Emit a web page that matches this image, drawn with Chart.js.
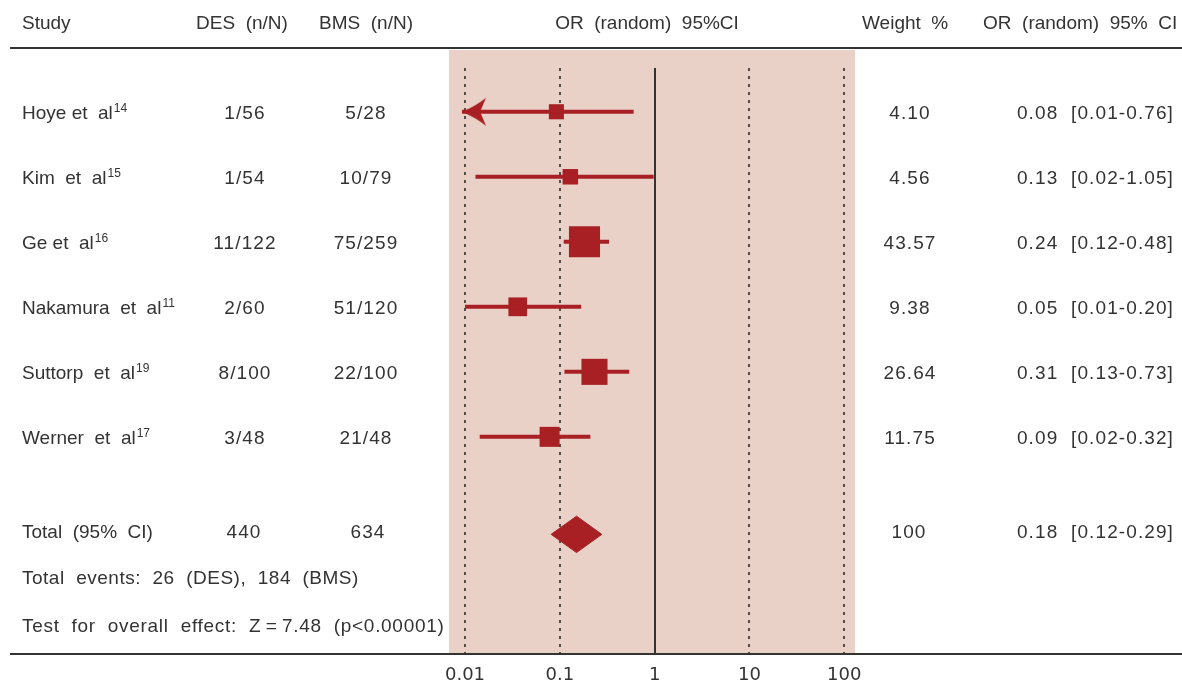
<!DOCTYPE html>
<html>
<head>
<meta charset="utf-8">
<script src="https://cdn.jsdelivr.net/npm/chart.js@4.4.0/dist/chart.umd.min.js"></script>
<style>
html, body { margin: 0; padding: 0; background: #fff; }
canvas { display: block; }
</style>
</head>
<body>
<canvas id="forest" width="1182" height="684"></canvas>
<script>
// dados da tabela
var estudos = ['Hoye et  al', 'Kim  et  al', 'Ge et  al', 'Nakamura  et  al', 'Suttorp  et  al', 'Werner  et  al'];
var refs = ['14', '15', '16', '11', '19', '17'];
var desTxt = ['1/56', '1/54', '11/122', '2/60', '8/100', '3/48'];
var bmsTxt = ['5/28', '10/79', '75/259', '51/120', '22/100', '21/48'];
var pesos = [4.10, 4.56, 43.57, 9.38, 26.64, 11.75];
var orTxt = ['0.08  [0.01-0.76]', '0.13  [0.02-1.05]', '0.24  [0.12-0.48]', '0.05  [0.01-0.20]', '0.31  [0.13-0.73]', '0.09  [0.02-0.32]'];

// posicoes dos marcadores
var orPonto = [0.092, 0.129, 0.182, 0.036, 0.232, 0.078];
var icBaixo = [0.0093, 0.0129, 0.11, 0.010, 0.112, 0.0143];
var icAlto = [0.60, 0.976, 0.33, 0.168, 0.54, 0.21];
var totalIC = [0.081, 0.15, 0.277]; // baixo, ponto, alto

var xTicks = [0.01, 0.1, 1, 10, 100];

var FONTE = '"Liberation Sans", Arial, sans-serif';
var FONTE_NUM = '"DejaVu Sans", sans-serif';
var TEXTO = '#333';
var VERMELHO = '#A81F24';
var ROSA = '#EAD1C8';

var LINHA_TOTAL = 7.5;

// seta da esquerda (Hoye)
var seta = document.createElement('canvas');
seta.width = 26; seta.height = 30;
(function() {
  var c = seta.getContext('2d');
  c.fillStyle = VERMELHO;
  c.beginPath();
  c.moveTo(0, 15);
  c.quadraticCurveTo(14, 9, 24, 1);
  c.lineTo(18, 15);
  c.lineTo(24, 29);
  c.quadraticCurveTo(14, 21, 0, 15);
  c.closePath();
  c.fill();
})();

function ladoQuadrado(p) { return 8 + 3.5 * Math.sqrt(p); }

var datasets = [];
estudos.forEach(function(n, i) {
  datasets.push({
    type: 'scatter', showLine: true,
    data: [{ x: icBaixo[i], y: i + 1 }, { x: icAlto[i], y: i + 1 }],
    borderColor: VERMELHO, borderWidth: 4, pointRadius: 0, borderCapStyle: 'butt'
  });
});
datasets.push({
  type: 'scatter',
  data: [{ x: Math.pow(10, Math.log10(icBaixo[0]) + 13 / 94.9), y: 1 }],
  pointStyle: seta, pointRadius: 13
});
datasets.push({
  type: 'scatter',
  data: orPonto.map(function(v, i) { return { x: v, y: i + 1 }; }),
  pointStyle: 'rect',
  pointRadius: pesos.map(function(p) { return ladoQuadrado(p) / 2 / Math.SQRT1_2; }),
  backgroundColor: VERMELHO, borderWidth: 0
});
datasets.push({
  type: 'scatter', showLine: true,
  data: [
    { x: totalIC[0], y: LINHA_TOTAL },
    { x: totalIC[1], y: LINHA_TOTAL - 0.28 },
    { x: totalIC[2], y: LINHA_TOTAL },
    { x: totalIC[1], y: LINHA_TOTAL + 0.28 },
    { x: totalIC[0], y: LINHA_TOTAL }
  ],
  borderColor: VERMELHO, backgroundColor: VERMELHO, borderWidth: 1,
  pointRadius: 0, fill: 'shape', tension: 0
});

var fundoPlugin = {
  id: 'fundo',
  beforeDraw: function(chart) {
    var ctx = chart.ctx, a = chart.chartArea, xs = chart.scales.x;
    ctx.save();
    ctx.fillStyle = '#fff';
    ctx.fillRect(0, 0, chart.width, chart.height);
    ctx.fillStyle = ROSA;
    ctx.fillRect(a.left, a.top, a.right - a.left, a.bottom - a.top);
    xTicks.forEach(function(v) {
      var px = Math.round(xs.getPixelForValue(v));
      ctx.beginPath();
      if (v === 1) {
        ctx.setLineDash([]);
        ctx.lineWidth = 2;
        ctx.strokeStyle = '#333';
      } else {
        ctx.setLineDash([3, 5]);
        ctx.lineWidth = 1.5;
        ctx.strokeStyle = '#222';
      }
      ctx.moveTo(px, a.top + 18);
      ctx.lineTo(px, a.bottom);
      ctx.stroke();
    });
    ctx.restore();
  },
  afterDraw: function(chart) {
    var ctx = chart.ctx, ys = chart.scales.y;
    ctx.save();
    // linhas horizontais
    ctx.strokeStyle = '#333';
    ctx.lineWidth = 2;
    ctx.beginPath();
    ctx.moveTo(10, 48); ctx.lineTo(1182, 48);
    ctx.moveTo(10, 654); ctx.lineTo(1182, 654);
    ctx.stroke();

    ctx.fillStyle = TEXTO;
    ctx.textBaseline = 'middle';
    function txt(s, x, y, al, f, esp) {
      ctx.font = f || ('19px ' + FONTE);
      ctx.letterSpacing = esp || '0px';
      ctx.textAlign = al || 'left';
      ctx.fillText(s, x, y);
    }
    var f19 = '19px ' + FONTE;
    var numEsp = '1.1px';

    // cabecalho
    txt('Study', 22, 24);
    txt('DES  (n/N)', 242, 24, 'center');
    txt('BMS  (n/N)', 366, 24, 'center');
    txt('OR  (random)  95%CI', 647, 24, 'center');
    txt('Weight  %', 862, 24);
    txt('OR  (random)  95%  CI', 983, 24);

    estudos.forEach(function(n, i) {
      var y = ys.getPixelForValue(i + 1) + 2;
      txt(n, 22, y);
      var w = ctx.measureText(n).width;
      txt(desTxt[i], 245, y, 'center', f19, numEsp);
      txt(bmsTxt[i], 366, y, 'center', f19, numEsp);
      txt(pesos[i].toFixed(2), 910, y, 'center', f19, numEsp);
      txt(orTxt[i], 1174, y, 'right', f19, numEsp);
      txt(refs[i], 22 + w + 1, y - 5, 'left', '12px ' + FONTE);
    });

    var yt = ys.getPixelForValue(LINHA_TOTAL) - 2;
    txt('Total  (95%  CI)', 22, yt);
    txt('440', 244, yt, 'center', f19, numEsp);
    txt('634', 368, yt, 'center', f19, numEsp);
    txt('100', 909, yt, 'center', f19, numEsp);
    txt('0.18  [0.12-0.29]', 1174, yt, 'right', f19, numEsp);
    txt('Total  events:  26  (DES),  184  (BMS)', 22, 579, 'left', f19, '0.5px');
    txt('Test  for  overall  effect:  Z\u2009=\u20097.48  (p<0.00001)', 22, 627, 'left', f19, '0.7px');
    ctx.restore();
  }
};

new Chart(document.getElementById('forest'), {
  type: 'scatter',
  data: { datasets: datasets },
  options: {
    responsive: false,
    animation: false,
    events: [],
    layout: { padding: { left: 449, right: 327, top: 50, bottom: 0 } },
    plugins: { legend: { display: false }, tooltip: { enabled: false } },
    scales: {
      x: {
        type: 'logarithmic', min: 0.00678, max: 129.7, position: 'bottom',
        afterBuildTicks: function(s) { s.ticks = xTicks.map(function(v) { return { value: v }; }); },
        afterFit: function(s) { s.height = 30; },
        ticks: {
          callback: function(v) { return String(v); },
          color: TEXTO, font: { family: FONTE_NUM, size: 18 }, padding: 11,
          maxRotation: 0, autoSkip: false
        },
        grid: { display: false, drawTicks: false },
        border: { display: false }
      },
      y: {
        type: 'linear', min: 0.05, max: 9.34, reverse: true, display: false
      }
    }
  },
  plugins: [fundoPlugin]
});
</script>
</body>
</html>
